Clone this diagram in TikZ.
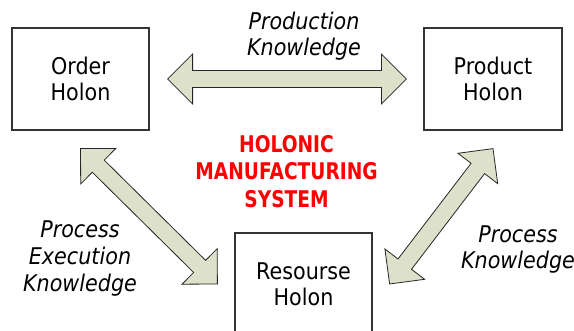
\documentclass[tikz,border=0pt]{standalone}
\usepackage{fontspec}
\setmainfont{DejaVu Sans}[FakeStretch=0.9]
\newfontfamily\hmsfont{DejaVu Sans}[FakeStretch=0.81]
\usepackage{xcolor}
\usepackage{tikz}
\usetikzlibrary{calc, positioning}
\definecolor{arrowfill}{HTML}{DDE1CA}
\definecolor{hmsred}{HTML}{FF0000}
\tikzstyle{holon} = [rectangle, draw=black!80, line width=1.2pt, minimum width=137pt, minimum height=102pt, align=center, font=\fontsize{23}{26}\selectfont]
\tikzstyle{knowledge} = [align=center, font=\fontsize{23}{26}\selectfont\itshape]
\tikzstyle{title} = [align=center, text=hmsred, font=\fontsize{23}{27.5}\selectfont\hmsfont\bfseries]
\tikzstyle{knowarrow} = [draw=black!85, line width=0.8pt, fill=arrowfill, line join=miter]
% block arrow with a head at both ends
\newcommand{\blockarrow}[2]{%
  \draw[knowarrow] (#1)
    -- ($(#1)!25pt!(#2)!25pt!90:(#2)$) -- ($(#1)!25pt!(#2)!8.5pt!90:(#2)$)
    -- ($(#2)!25pt!(#1)!8.5pt!-90:(#1)$) -- ($(#2)!25pt!(#1)!25pt!-90:(#1)$)
    -- (#2)
    -- ($(#2)!25pt!(#1)!25pt!90:(#1)$) -- ($(#2)!25pt!(#1)!8.5pt!90:(#1)$)
    -- ($(#1)!25pt!(#2)!8.5pt!-90:(#2)$) -- ($(#1)!25pt!(#2)!25pt!-90:(#2)$)
    -- cycle;}

\begin{document}
\begin{tikzpicture}[x=1pt, y=-1pt]
	\useasboundingbox (0,0) rectangle (574,331);
	
	% Nodes
	\node (order) [holon] at (80.5,79) {Order\\Holon};
	\node (product) [holon, minimum width=138pt] at (493,79) {Product\\Holon};
	\node (resource) [holon] at (303.5,284) {Resourse\\Holon};
	\node (hms) [title] at (286.5,171.5) {HOLONIC\\MANUFACTURING\\SYSTEM};
	\node (prodknow) [knowledge] at (304,36.5) {Production\\Knowledge};
	\node (execknow) [knowledge, font=\fontsize{23}{27}\selectfont\itshape] at (80,259) {Process\\Execution\\Knowledge};
	\node (procknow) [knowledge] at (518,250) {Process\\Knowledge};
	
	% Arrow ends
	\coordinate (op) at ([xshift=18pt]order.east);
	\coordinate (po) at ([xshift=-17pt]product.west);
	\coordinate (or) at ([yshift=-18pt]order.south);
	\coordinate (ro) at ([xshift=-17pt]resource.west);
	\coordinate (pr) at ([yshift=-18pt]product.south);
	\coordinate (rp) at ([xshift=17pt]resource.east);
	
	% Arrows
	\blockarrow{op}{po}
	\blockarrow{or}{ro}
	\blockarrow{pr}{rp}
	
\end{tikzpicture}
\end{document}
